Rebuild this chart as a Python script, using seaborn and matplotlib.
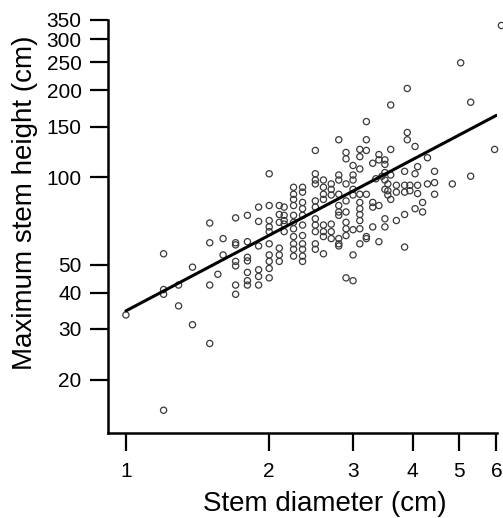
import numpy as np
import seaborn as sns
import matplotlib
matplotlib.use("Agg")
import matplotlib.pyplot as plt
from matplotlib.ticker import NullLocator, FixedLocator, FixedFormatter

# stem diameter columns (cm) and the max heights (cm) measured at each
diam_cols = [1.0, 1.2, 1.29, 1.38, 1.5, 1.56, 1.6, 1.7, 1.8, 1.9,
             2.0, 2.1, 2.15, 2.25, 2.35, 2.5, 2.6, 2.7, 2.8, 2.9,
             3.0, 3.1, 3.2, 3.3, 3.35, 3.4, 3.45, 3.5, 3.55, 3.6,
             3.7, 3.85, 3.9, 3.95, 4.05, 4.1, 4.2, 4.3, 4.45, 4.85,
             5.05, 5.3, 5.95, 6.15]
height_cols = [
    [33.5],
    [54.5, 41, 39.5, 15.7],
    [42.5, 36],
    [49, 31],
    [69.6, 59.5, 42.5, 26.7],
    [46.3],
    [61.5, 54],
    [72.5, 59.5, 58.5, 51.3, 49.5, 42.5, 39.5],
    [74, 60, 53, 51.5, 47, 44, 42.5],
    [79, 70.5, 58, 48, 45.5, 42.5],
    [103, 80, 71, 67.5, 65, 59, 54, 51.3, 48.5, 45],
    [80, 74.5, 70, 57, 54, 51.3],
    [79, 74, 71, 69, 65],
    [92.5, 87.5, 84, 80, 74, 70, 66.5, 62.5, 59, 56.5, 53.5],
    [92.5, 89, 82, 78, 74, 68.5, 63, 59, 56.5, 53.5, 51.3],
    [124, 103, 98, 95, 83, 79, 72, 68.5, 65, 59, 56.5],
    [98, 92.5, 87.5, 84, 68.5, 65, 62.5, 54.5],
    [95, 91, 87, 69, 65, 61.5],
    [135, 102, 98, 87.5, 80, 76, 74, 61.5, 59, 58],
    [122, 116, 95, 83, 76, 70, 66.5, 63, 45],
    [110, 102, 98, 91, 87, 66, 54, 44],
    [125, 118, 107, 87.5, 82, 78, 74.5, 71, 66.5, 59],
    [156, 135, 124, 87.5, 62.5, 61.5],
    [112, 82, 79, 67.5],
    [99],
    [120, 115, 80, 60],
    [101],
    [115, 111, 104, 98, 91, 72, 67.5],
    [95, 90, 87],
    [178, 125, 102, 84],
    [94, 89, 71],
    [105, 94, 89, 74.5, 57.5],
    [203, 143, 135],
    [94, 90],
    [128, 103, 78],
    [109, 94, 88],
    [82, 76],
    [117, 95],
    [105, 96, 87.5],
    [95],
    [249],
    [182, 101],
    [125],
    [335],
]

# fitted power law: height = a * diam ** b
fit_a = 34.6
fit_b = 0.868

x_ticks = [1, 2, 3, 4, 5, 6]
y_ticks = [20, 30, 40, 50, 100, 150, 200, 250, 300, 350]

diam = np.concatenate([[c] * len(h) for c, h in zip(diam_cols, height_cols)])
height = np.concatenate([np.array(h, dtype=float) for h in height_cols])

sns.set_style("ticks")
plt.rcParams['font.family'] = ['Liberation Sans', 'DejaVu Sans']
plt.rcParams['text.color'] = 'black'
plt.rcParams['axes.labelcolor'] = 'black'

fig = plt.figure(figsize=(5.03, 5.18), dpi=100)
ax = fig.add_axes([0.2147, 0.1641, 0.7734, 0.7973])
ax.set_xscale('log')
ax.set_yscale('log')

sns.scatterplot(x=diam, y=height, ax=ax, s=20, facecolor='none',
                edgecolor='#3a3a3a', linewidth=0.9, clip_on=False)

xs = np.linspace(1, 6, 50)
sns.lineplot(x=xs, y=fit_a * xs ** fit_b, ax=ax,
             color='black', linewidth=2.2)

ax.set_xlim(0.917, 6.02)
ax.set_ylim(13.1, 350)
ax.xaxis.set_major_locator(FixedLocator(x_ticks))
ax.xaxis.set_major_formatter(FixedFormatter([str(t) for t in x_ticks]))
ax.yaxis.set_major_locator(FixedLocator(y_ticks))
ax.yaxis.set_major_formatter(FixedFormatter([str(t) for t in y_ticks]))
ax.xaxis.set_minor_locator(NullLocator())
ax.yaxis.set_minor_locator(NullLocator())

for s in ['top', 'right']:
    ax.spines[s].set_visible(False)
for s in ['left', 'bottom']:
    ax.spines[s].set_linewidth(1.8)
    ax.spines[s].set_color('black')
ax.tick_params(length=13, width=1.6, labelsize=15, color='black',
               labelcolor='black')
ax.tick_params(axis='x', pad=8)
ax.tick_params(axis='y', pad=6)

ax.set_xlabel('Stem diameter (cm)', fontsize=20)
ax.set_ylabel('Maximum stem height (cm)', fontsize=20)
ax.xaxis.set_label_coords(0.558, -0.14)
ax.yaxis.set_label_coords(-0.18, 0.557)

fig.savefig('out.png', dpi=100)
